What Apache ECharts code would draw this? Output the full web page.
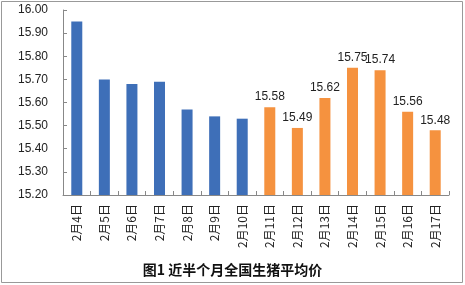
<!DOCTYPE html>
<html><head><meta charset="utf-8">
<script src="https://cdn.jsdelivr.net/npm/echarts@6/dist/echarts.min.js"></script>
<style>html,body{margin:0;padding:0;background:#fff}#c{width:465px;height:285px}</style>
</head><body><div id="c"></div>
<script>
var categories = ['2月4日','2月5日','2月6日','2月7日','2月8日','2月9日','2月10日','2月11日','2月12日','2月13日','2月14日','2月15日','2月16日','2月17日'];
var blueValues = [15.95, 15.70, 15.68, 15.69, 15.57, 15.54, 15.53, null, null, null, null, null, null, null];
var orangeValues = [null, null, null, null, null, null, null, 15.58, 15.49, 15.62, 15.75, 15.74, 15.56, 15.48];
var titleText = '图1 近半个月全国生猪平均价';

var chart = echarts.init(document.getElementById('c'), null, {renderer:'canvas'});
chart.setOption({
  animation: false,
  backgroundColor: '#fff',
  title: {
    text: titleText, left: 'center', top: 258,
    textStyle: {fontFamily: 'Noto Sans CJK SC', fontWeight: 'bold', fontSize: 14, color: '#111'}
  },
  grid: {left: 63, right: 16, top: 10, bottom: 90},
  xAxis: {
    type: 'category', data: categories,
    axisLine: {lineStyle: {color: '#888', width: 1}},
    axisTick: {show: true, inside: true, length: 4, lineStyle: {color: '#888'}},
    axisLabel: {rotate: 90, fontSize: 12, color: '#222', fontFamily: 'Noto Sans CJK SC', margin: 9, interval: 0}
  },
  yAxis: {
    type: 'value', min: 15.2, max: 16.0, interval: 0.1,
    axisLine: {show: true, lineStyle: {color: '#888'}},
    axisTick: {show: true, inside: true, length: 4, lineStyle: {color: '#888'}},
    splitLine: {show: false},
    axisLabel: {fontSize: 12, color: '#222', fontFamily: 'Liberation Sans', margin: 15,
      formatter: function(v){return v.toFixed(2);}}
  },
  series: [
    {type: 'bar', data: blueValues, barWidth: 11, barGap: '-100%', itemStyle: {color: '#3E6FB8'}},
    {type: 'bar', data: orangeValues, barWidth: 11, itemStyle: {color: '#F5923F'},
     label: {show: true, position: 'top', fontSize: 12, color: '#222', fontFamily: 'Liberation Sans', distance: 4,
       formatter: function(p){return p.value.toFixed(2);}}}
  ],
  graphic: [{type: 'rect', shape: {x: 1.5, y: 1.5, width: 461, height: 281}, style: {fill: 'none', stroke: '#999', lineWidth: 1}, silent: true}]
});
</script></body></html>
